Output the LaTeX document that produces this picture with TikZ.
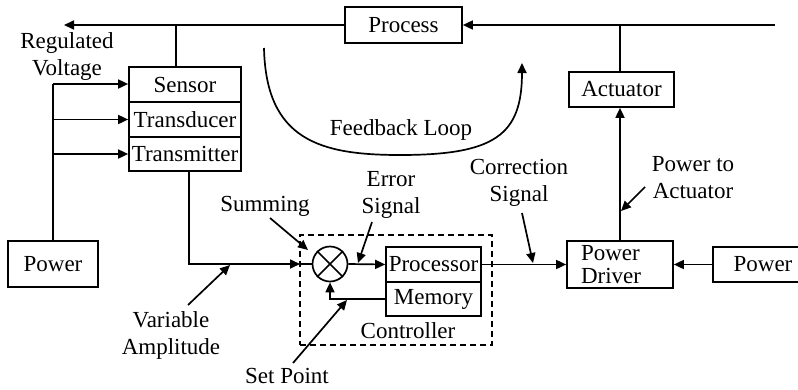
\documentclass[tikz,border=0pt]{standalone}
\usepackage{fontspec}
\setmainfont{Liberation Serif}
\usetikzlibrary{arrows.meta}
\begin{document}
\begin{tikzpicture}[x=1pt,y=-1pt,
  every node/.style={font=\fontsize{23}{27}\selectfont},
  blk/.style={draw,line width=1.7pt,inner sep=0pt},
  wire/.style={line width=1.7pt},
  arr/.style={line width=1.7pt,-{Triangle[length=10pt,width=9pt]}},
  lbl/.style={align=center,inner sep=0pt},
  >={Triangle[length=10pt,width=9pt]}]
\useasboundingbox (0,0) rectangle (798,389);
% blocks
\node[blk,minimum width=117pt,minimum height=36pt] (process) at (403.5,25) {Process};
\node[blk,minimum width=112pt,minimum height=35pt] (sensor) at (185,84.5) {Sensor};
\node[blk,minimum width=112pt,minimum height=35pt] (transducer) at (185,119.5) {Transducer};
\node[blk,minimum width=112pt,minimum height=34pt] (transmitter) at (185,154) {Transmitter};
\node[blk,minimum width=90pt,minimum height=46pt] (powerL) at (53,264) {Power};
\node[draw,line width=1.7pt,circle,minimum size=35pt,inner sep=0pt] (sum) at (330,264) {};
\draw[line width=1.5pt] (sum.north west) -- (sum.south east) (sum.north east) -- (sum.south west);
\node[blk,minimum width=95pt,minimum height=35pt] (processor) at (433.5,264.5) {Processor};
\node[blk,minimum width=95pt,minimum height=34pt] (memory) at (433.5,299) {Memory};
\node[draw,line width=1.7pt,dash pattern=on 6pt off 4pt,minimum width=192pt,minimum height=110pt,inner sep=0pt] (ctrlbox) at (396,290) {};
\node[lbl] (ctrl) at (408,331) {Controller};
\node[blk,minimum width=106pt,minimum height=47pt,text width=78pt,inner xsep=14pt,align=left,
      font=\fontsize{23}{23}\selectfont] (driver) at (620,264.5) {Power\\Driver};
\node[blk,minimum width=100pt,minimum height=35pt] (powerR) at (763,264.5) {Power};
\node[blk,minimum width=105pt,minimum height=35pt] (actuator) at (621.5,89.5) {Actuator};
% labels
\node[lbl] (regv) at (67,56) {Regulated\\Voltage};
\node[lbl] (fbl) at (401,130) {Feedback Loop};
\node[lbl] (summing) at (265,206) {Summing};
\node[lbl] (errsig) at (391,195) {Error\\Signal};
\node[lbl] (corsig) at (519,183) {Correction\\Signal};
\node[lbl] (pwract) at (693,178) {Power to\\Actuator};
\node[lbl] (varamp) at (171,335) {Variable\\Amplitude};
\node[lbl] (setpt) at (287,376) {Set Point};
% coordinates
\coordinate (topR) at (775,25);
\coordinate (topL) at (64,25);
\coordinate (tapS) at (176,25);
\coordinate (tapA) at (620,25);
\coordinate (feedX) at (53,84);
\coordinate (txdown) at (189,171);
\coordinate (sumin) at (300,264);
% top line
\draw[arr] (topR) -- (process.east);
\draw[arr] (process.west) -- (topL);
\draw[wire] (tapS) -- (tapS |- sensor.north);
\draw[wire] (tapA) -- (tapA |- actuator.north);
% power feed to sensor stack
\draw[wire] (powerL.north) -- (feedX);
\draw[arr] (feedX) -- (sensor.west |- feedX);
\draw[arr] (feedX |- transducer.west) -- (transducer.west);
\draw[arr] (feedX |- transmitter.west) -- (transmitter.west);
% transmitter to summing
\draw[arr] (txdown) |- (sumin);
\draw[wire] (sumin) -- (sum.west);
\draw[arr] (sum.east) -- (processor.west);
\draw[arr] (memory.west) -| (sum.south);
% processor to driver
\draw[arr] (processor.east) -- (driver.west);
\draw[arr] (powerR.west) -- (driver.east);
\draw[arr] (driver.north -| tapA) -- (actuator.south -| tapA);
% feedback loop curve
\coordinate (fbs) at (264,48);
\coordinate (fbm) at (400,155);
\coordinate (fbe) at (522,63);
\draw[arr] (fbs) .. controls (266,140) and (320,155) .. (fbm) .. controls (495,155) and (522,135) .. (fbe);
% pointer arrows
\coordinate (p1s) at (270,218); \coordinate (p1e) at (308,250);
\coordinate (p2s) at (372,222); \coordinate (p2e) at (358,263);
\coordinate (p3s) at (522,213); \coordinate (p3e) at (533,263);
\coordinate (p4s) at (645,187); \coordinate (p4e) at (621,211);
\coordinate (p5s) at (188,305); \coordinate (p5e) at (230,265);
\coordinate (p6s) at (293,363); \coordinate (p6e) at (347,300);
\draw[arr] (p1s) -- (p1e);
\draw[arr] (p2s) -- (p2e);
\draw[arr] (p3s) -- (p3e);
\draw[arr] (p4s) -- (p4e);
\draw[arr] (p5s) -- (p5e);
\draw[arr] (p6s) -- (p6e);
\end{tikzpicture}
\end{document}
